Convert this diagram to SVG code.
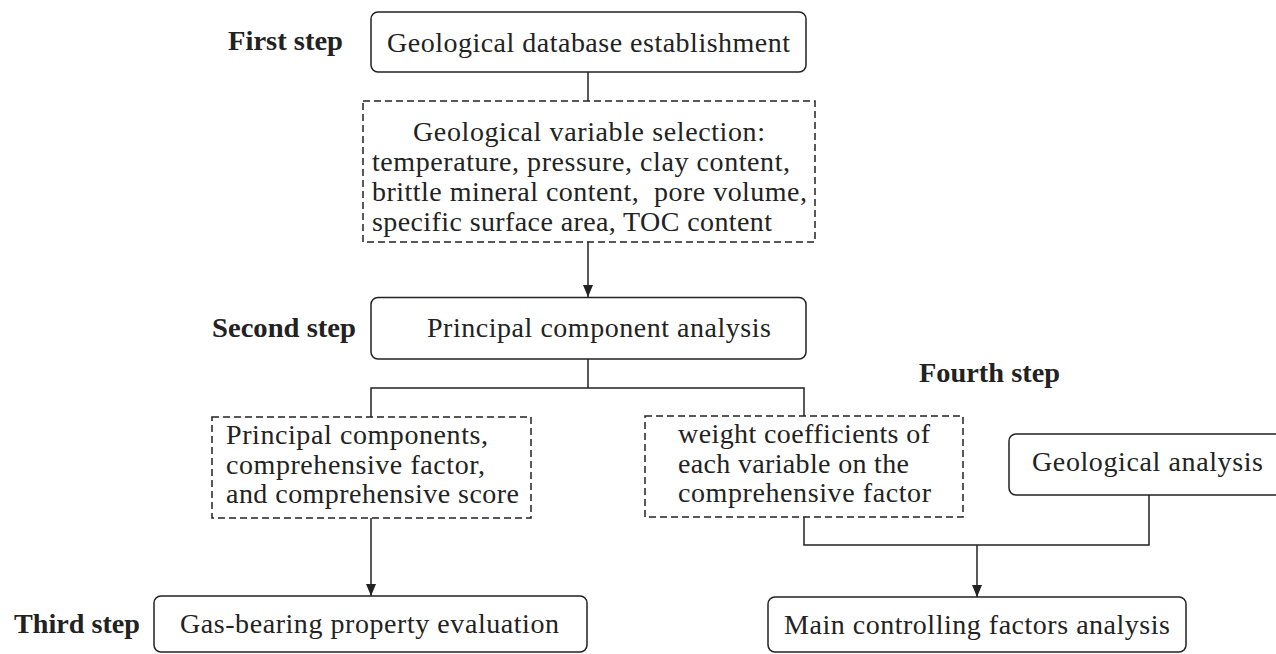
<svg xmlns="http://www.w3.org/2000/svg" width="1276" height="654" viewBox="0 0 1276 654">
<defs>
<marker id="arr" markerWidth="12" markerHeight="10" refX="12" refY="5" orient="auto" markerUnits="userSpaceOnUse">
<path d="M0,0 L12,5 L0,10 Z" fill="#222"/>
</marker>
<style>
.box{fill:#fff;stroke:#222;stroke-width:1.5}
.dash{fill:#fff;stroke:#222;stroke-width:1.5;stroke-dasharray:7 4}
.t{font-family:"Liberation Serif","Times New Roman",serif;font-size:28px;fill:#222;white-space:pre}
.lbl{font-family:"Liberation Serif","Times New Roman",serif;font-size:28px;font-weight:bold;fill:#222}
.c{fill:none;stroke:#222;stroke-width:1.5}
</style>
</defs>
<rect width="1276" height="654" fill="#fff"/>
<g id="connectors">
<path class="c" d="M588,72 V101"/>
<path class="c" d="M588,242 V297" marker-end="url(#arr)"/>
<path class="c" d="M588,359 V388 M371,417 V388 H804 V416"/>
<path class="c" d="M371,518 V596" marker-end="url(#arr)"/>
<path class="c" d="M804,517 V545 H1149 V495"/>
<path class="c" d="M977,545 V597" marker-end="url(#arr)"/>
</g>
<g id="labels">
<text class="lbl" x="228" y="50" textLength="115" lengthAdjust="spacingAndGlyphs">First step</text>
<text class="lbl" x="212" y="337" textLength="144" lengthAdjust="spacingAndGlyphs">Second step</text>
<text class="lbl" x="14" y="633" textLength="126" lengthAdjust="spacingAndGlyphs">Third step</text>
<text class="lbl" x="919" y="382" textLength="141" lengthAdjust="spacingAndGlyphs">Fourth step</text>
</g>
<g id="n1">
<rect class="box" x="371" y="12" width="435" height="60" rx="7"/>
<text class="t" x="387" y="52" textLength="403">Geological database establishment</text>
</g>
<g id="n2">
<rect class="dash" x="363" y="101" width="452" height="141"/>
<text class="t" x="413" y="141" textLength="352">Geological variable selection:</text>
<text class="t" x="372" y="171" textLength="418">temperature, pressure, clay content,</text>
<text class="t" x="372" y="201" textLength="435">brittle mineral content,  pore volume,</text>
<text class="t" x="372" y="231" textLength="400">specific surface area, TOC content</text>
</g>
<g id="n3">
<rect class="box" x="371" y="297.5" width="435" height="61.5" rx="7"/>
<text class="t" x="427" y="337" textLength="344">Principal component analysis</text>
</g>
<g id="n4">
<rect class="dash" x="212" y="417" width="319" height="101"/>
<text class="t" x="226" y="444" textLength="262">Principal components,</text>
<text class="t" x="226" y="474" textLength="259">comprehensive factor,</text>
<text class="t" x="226" y="503" textLength="293">and comprehensive score</text>
</g>
<g id="n5">
<rect class="dash" x="645" y="416" width="318" height="101"/>
<text class="t" x="678" y="443" textLength="252">weight coefficients of</text>
<text class="t" x="678" y="473" textLength="231">each variable on the</text>
<text class="t" x="678" y="502" textLength="253">comprehensive factor</text>
</g>
<g id="n6">
<rect class="box" x="1009" y="434" width="290" height="61" rx="7"/>
<text class="t" x="1032" y="471" textLength="231">Geological analysis</text>
</g>
<g id="n7">
<rect class="box" x="154" y="596" width="433" height="56" rx="7"/>
<text class="t" x="180" y="633" textLength="379">Gas-bearing property evaluation</text>
</g>
<g id="n8">
<rect class="box" x="768" y="597" width="418" height="55" rx="7"/>
<text class="t" x="784" y="634" textLength="386">Main controlling factors analysis</text>
</g>
</svg>
